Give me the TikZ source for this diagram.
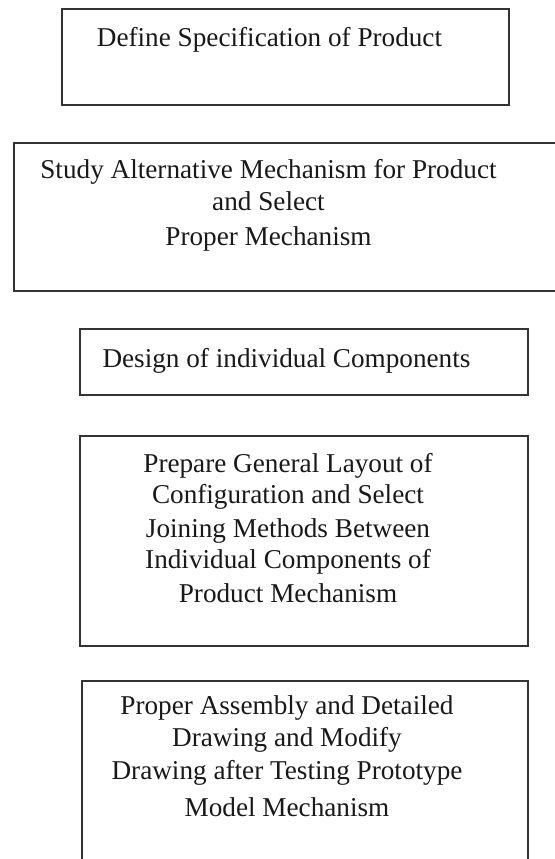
\documentclass[tikz,border=0pt]{standalone}
\usepackage{fontspec}
\setmainfont{Liberation Serif}
\tikzset{
  stepbox/.style={draw=black!80, line width=0.65pt},
  steptext/.style={anchor=base, align=center, inner sep=0pt, text=black!90,
    font=\fontsize{13.6}{16}\selectfont}
}
\begin{document}
\begin{tikzpicture}[x=0.5pt, y=-0.5pt]
  \clip (0,0) rectangle (555,859);
  \fill[white] (0,0) rectangle (555,859);

  % boxes
  \draw[stepbox] (62,9) rectangle (509,105);
  \draw[stepbox] (14,143) rectangle (565,291);
  \draw[stepbox] (80,329) rectangle (528,395);
  \draw[stepbox] (80,436) rectangle (528,646);
  \draw[stepbox] (82,681) rectangle (528,880);

  % texts (base = last line)
  \node[steptext] (spec) at (269.5,46) {Define Specification of Product};
  \node[steptext] (mech) at (268.5,245) {Study Alternative Mechanism for Product\\
    and Select\\[1.5pt] Proper Mechanism};
  \node[steptext] (comp) at (286.5,367) {Design of individual Components};
  \node[steptext] (layout) at (288,602) {Prepare General Layout of\\[-0.5pt]
    Configuration and Select\\[1pt] Joining Methods Between\\[-0.5pt]
    Individual Components of\\[1pt] Product Mechanism};
  \node[steptext] (assembly) at (287,816) {Proper Assembly and Detailed\\
    Drawing and Modify\\[0.5pt] Drawing after Testing Prototype\\[2.5pt]
    Model Mechanism};
\end{tikzpicture}
\end{document}
